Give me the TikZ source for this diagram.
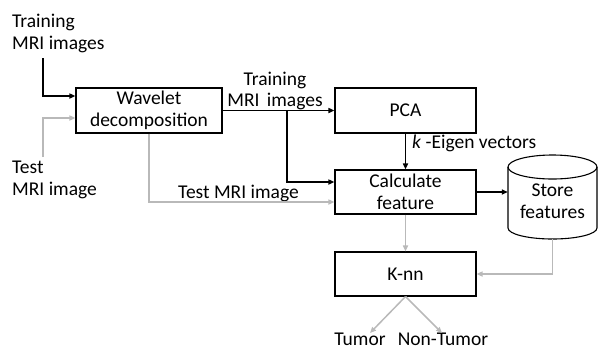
\documentclass[tikz,border=0pt]{standalone}
\usepackage{fontspec}
\setmainfont{Carlito}
\usetikzlibrary{arrows.meta,calc}
\definecolor{lg}{RGB}{185,185,185}
\begin{document}
\begin{tikzpicture}[x=1pt,y=-1pt,
  font=\fontsize{19.5}{21.5}\selectfont,
  box/.style={draw, line width=1.1pt, minimum width=141pt, minimum height=44pt, align=center, inner sep=0pt},
  blk/.style={line width=1.5pt, -{Triangle[length=6pt,width=5pt]}},
  gry/.style={draw=lg, line width=1.5pt, -{Triangle[length=6pt,width=5pt]}},
  lbl/.style={inner sep=0pt}]
\useasboundingbox (0,0) rectangle (598,349);

\node[box, minimum width=146pt, minimum height=45pt] (wav) at (149,110.5) {Wavelet\\decomposition};
\node[box, minimum height=45pt] (pca) at (405.5,110.5) {PCA};
\node[box] (calc) at (405.5,192) {Calculate\\feature};
\node[box] (knn) at (405.5,274) {K-nn};
\node[inner sep=0pt, minimum width=89pt, minimum height=84pt] (store) at (552.5,197) {};
\node[lbl, align=center, anchor=base] (stt) at (552.5,218) {Store\\features};
\draw[line width=1.1pt] (552.5,167) ellipse [x radius=44.5pt, y radius=12pt];
\draw[line width=1.1pt] (508,167) -- (508,228) arc[start angle=180, end angle=360, x radius=44.5pt, y radius=11pt] -- (597,167);

\node[lbl, align=left, anchor=base west] (ltr) at (12,49) {Training\\MRI images};
\node[lbl, align=left, anchor=base west] (lte) at (12,195) {Test\\MRI image};
\node[lbl, align=center, anchor=base] (mtr) at (275,106.5) {Training\\MRI\hspace{0.15em} images};
\node[lbl, anchor=base] (mte) at (238.5,198) {Test MRI image};
\node[lbl, anchor=base west] (eig) at (412,148) {\textit{k} -Eigen vectors};
\node[lbl, anchor=base] (tum) at (360,345.5) {Tumor};
\node[lbl, anchor=base] (ntum) at (443,345.5) {Non-Tumor};

\coordinate (in1) at (43,58);
\coordinate (in2) at (43,157);
\coordinate (br) at (287,110.5);
\coordinate (t1) at (370,333);
\coordinate (t2) at (442,333);

\draw[blk] (in1) |- ([yshift=14.5pt]wav.west);
\draw[gry] (in2) |- ([yshift=-7.5pt]wav.west);
\draw[blk] (wav.east) -- (pca.west);
\draw[blk] (br) |- ([yshift=10pt]calc.west);
\draw[gry] (wav.south) |- ([yshift=-10pt]calc.west);
\draw[blk] (pca.south) -- (calc.north);
\draw[blk] (calc.east) -- (calc.east -| store.west);
\draw[gry] (calc.south) -- (knn.north);
\draw[gry] (store.south) |- (knn.east);
\draw[gry] (knn.south) -- (t1);
\draw[gry] (knn.south) -- (t2);
\end{tikzpicture}
\end{document}
